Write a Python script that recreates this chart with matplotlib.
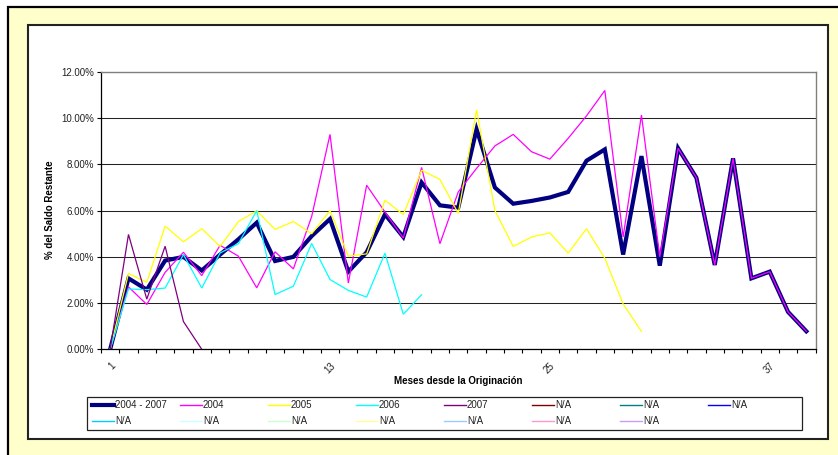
import numpy as np
import matplotlib
import matplotlib.pyplot as plt
from matplotlib.patches import Rectangle
from matplotlib.lines import Line2D
from matplotlib.transforms import ScaledTranslation

matplotlib.use('Agg')
plt.rcParams['font.family'] = ['Liberation Sans', 'DejaVu Sans']

nan = np.nan
meses = np.arange(1, 40)

total_04_07 = [0, 3.07, 2.58, 3.84, 4.0, 3.41, 4.1, 4.76, 5.48, 3.82, 4.0, 4.9, 5.64,
               3.36, 4.2, 5.84, 4.86, 7.22, 6.23, 6.13, 9.52, 7.0, 6.3, 6.42, 6.57,
               6.81, 8.16, 8.65, 4.1, 8.36, 3.62, 8.7, 7.42, 3.65, 8.26, 3.07, 3.36,
               1.62, 0.78]
serie_2004 = [0, 2.70, 1.94, 3.33, 4.2, 3.19, 4.5, 4.03, 2.66, 4.22, 3.48, 5.75, 9.3,
              2.87, 7.1, 5.94, 4.81, 7.87, 4.57, 6.81, 7.83, 8.8, 9.3, 8.55, 8.23,
              9.13, 10.1, 11.2, 4.86, 10.14, 4.0, 8.7, 7.42, 3.65, 8.26, 3.07, 3.36,
              1.62, 0.78]
serie_2005 = [0, 3.28, 2.9, 5.33, 4.65, 5.22, 4.45, 5.53, 5.99, 5.19, 5.53, 5.0, 6.0,
              4.03, 4.13, 6.45, 5.83, 7.75, 7.35, 5.88, 10.36, 6.01, 4.45, 4.86, 5.04,
              4.16, 5.22, 3.94, 1.96, 0.77] + [nan] * 9
serie_2006 = [0, 2.61, 2.58, 2.65, 4.1, 2.65, 4.17, 4.57, 6.0, 2.37, 2.73, 4.58, 3.02,
              2.55, 2.26, 4.16, 1.52, 2.36] + [nan] * 21
serie_2007 = [0, 4.97, 2.17, 4.46, 1.2, 0] + [nan] * 33

series = [
    ('2004 - 2007', total_04_07, '#000080', 3.0),
    ('2004', serie_2004, '#FF00FF', 0.9),
    ('2005', serie_2005, '#FFFF00', 0.9),
    ('2006', serie_2006, '#00FFFF', 0.9),
    ('2007', serie_2007, '#800080', 0.9),
]
# series sin datos que solo aparecen en la leyenda
na_colors = ['#800000', '#008080', '#0000FF', '#00CCFF', '#CCFFFF', '#CCFFCC',
             '#FFFF99', '#99CCFF', '#FF99CC', '#CC99FF']

W, H = 838, 455
fig = plt.figure(figsize=(W / 100, H / 100), dpi=100)
fig.patch.set_facecolor('white')


def caja(x0, y0, x1, y1, **kw):
    r = Rectangle((x0 / W, 1 - y1 / H), (x1 - x0) / W, (y1 - y0) / H,
                  transform=fig.transFigure, **kw)
    fig.add_artist(r)
    return r


caja(7.5, 7.5, 860, 480, facecolor='#FFFFCC', edgecolor='black', lw=1.6, zorder=0)
caja(28, 25, 828, 439, facecolor='white', edgecolor='#222222', lw=1.5, zorder=0)

ax = fig.add_axes([101 / W, 1 - 349.3 / H, (815.5 - 101) / W, (349.3 - 72) / H])
ax.set_facecolor('none')

for nombre, vals, color, lw in series:
    ax.plot(meses, vals, color=color, lw=lw, solid_joinstyle='miter', zorder=3)

ax.set_xlim(0.5, 39.5)
ax.set_ylim(0, 12)
ax.set_yticks(np.arange(0, 13, 2))
ax.set_yticklabels(['%.2f%%' % v for v in np.arange(0, 13, 2)], fontsize=7, color='#222222')
ax.yaxis.grid(True, color='#222222', lw=0.75)
ax.set_axisbelow(True)

ax.set_xticks(np.arange(0.5, 40, 1))
ax.set_xticklabels([])
ax.set_xticks([1, 13, 25, 37], minor=True)
ax.set_xticklabels(['1', '13', '25', '37'], minor=True, rotation=45, ha='right',
                   va='top', rotation_mode='anchor', fontsize=7, color='#222222')
desplaza = ScaledTranslation(-4 / 100, 0, fig.dpi_scale_trans)
for lbl in ax.get_xticklabels(minor=True):
    lbl.set_transform(lbl.get_transform() + desplaza)
ax.tick_params(axis='x', which='major', length=3, width=0.8, direction='out')
ax.tick_params(axis='x', which='minor', length=0, pad=8)
ax.tick_params(axis='y', length=3, width=0.8, pad=2)

for lado in ['top', 'right']:
    ax.spines[lado].set_color('#808080')
    ax.spines[lado].set_linewidth(1.0)
for lado in ['left', 'bottom']:
    ax.spines[lado].set_color('black')
    ax.spines[lado].set_linewidth(0.9)

fig.text(458 / W, 1 - 381 / H, 'Meses desde la Originación', ha='center', va='center',
         fontsize=7, fontweight='bold')
fig.text(50 / W, 1 - 210 / H, '% del Saldo Restante', ha='center', va='center',
         rotation=90, fontsize=7, fontweight='bold')

# leyenda con columnas de ancho fijo, como en Excel
caja(87, 397, 802, 430, facecolor='white', edgecolor='#222222', lw=0.9, zorder=1)
entradas = [(n, c, 3.0 if i == 0 else 1.0) for i, (n, v, c, lw) in enumerate(series)]
entradas += [('N/A', c, 1.0) for c in na_colors]
for k, (nombre, color, lw) in enumerate(entradas):
    fila, col = divmod(k, 8)
    x0 = 92 + col * 88
    y = 405 + fila * 16
    fig.add_artist(Line2D([x0 / W, (x0 + 22) / W], [1 - y / H, 1 - y / H], color=color,
                          lw=lw, transform=fig.transFigure, zorder=2))
    fig.text((x0 + 23) / W, 1 - y / H, nombre, ha='left', va='center', fontsize=7,
             color='#222222', zorder=2)

fig.savefig('out.png', dpi=100)
